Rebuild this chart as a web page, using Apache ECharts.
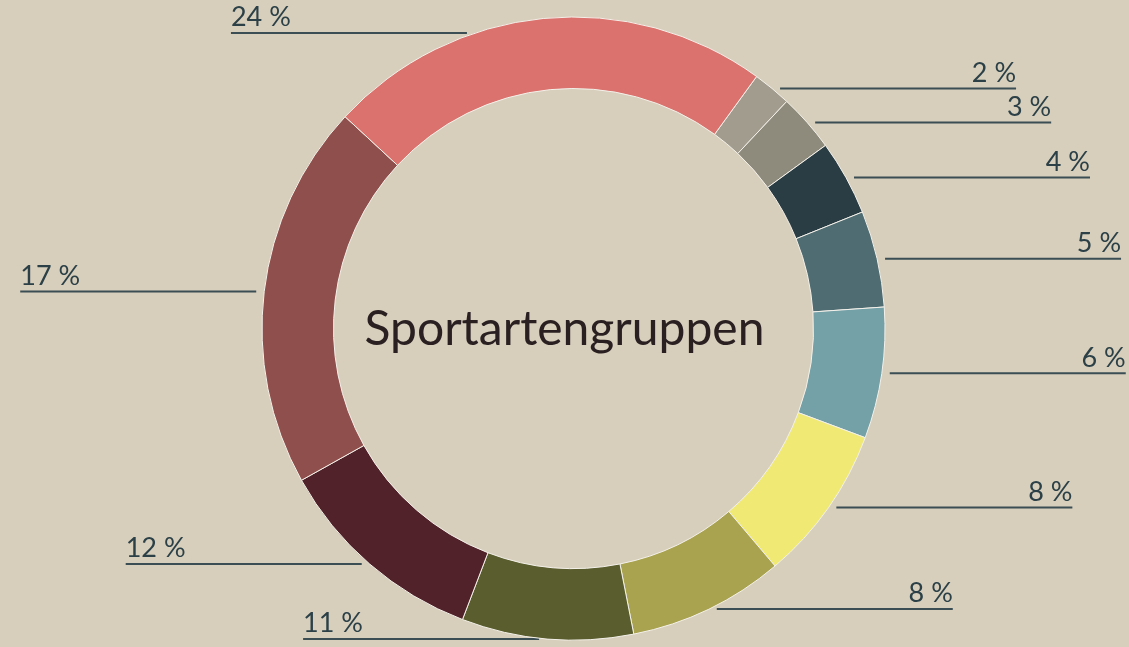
<!DOCTYPE html>
<html>
<head>
<meta charset="utf-8">
<title>Sportartengruppen</title>
<script src="https://cdn.jsdelivr.net/npm/echarts@6/dist/echarts.min.js"></script>
<style>
  html, body { margin: 0; padding: 0; background: #d7cebb; }
  #chart { width: 1129px; height: 647px; }
</style>
</head>
<body>
<div id="chart"></div>
<script>
  // Anteile der Ringsegmente (im Uhrzeigersinn)
  var values = [2.0, 3.0, 3.9, 5.0, 6.8, 8.1, 8.1, 8.9, 11.1, 20.0, 23.1];
  // beschriftete Werte
  var labels = ['2 %', '3 %', '4 %', '5 %', '6 %', '8 %', '8 %', '11 %', '12 %', '17 %', '24 %'];
  var colors = ['#a29c8f', '#8e8a7c', '#2b3d44', '#4f6c72', '#74a0a8', '#f0ea74',
                '#a9a34f', '#5a5d2e', '#51222a', '#8f4f4c', '#dc726e'];

  var cx = 573.5, cy = 328.5, outerR = 311.5, innerR = 240;
  var labelSize = 27, gap = 8, lineLen = 236;

  var myChart = echarts.init(document.getElementById('chart'));

  var seriesData = values.map(function (v, i) {
    return { name: labels[i], value: v, itemStyle: { color: colors[i] } };
  });

  var options = {
    backgroundColor: '#d7cebb',
    animation: false,
    title: {
      text: 'Sportartengruppen',
      left: 'center',
      top: 301,
      textStyle: {
        fontFamily: 'Lato',
        fontSize: 48,
        fontWeight: 'normal',
        color: '#2a2022'
      }
    },
    series: [
      {
        type: 'pie',
        center: [cx, cy],
        radius: [innerR, outerR],
        startAngle: 54,
        clockwise: true,
        avoidLabelOverlap: false,
        data: seriesData,
        itemStyle: {
          borderColor: '#f4f1ea',
          borderWidth: 1
        },
        label: {
          show: true,
          position: 'outside',
          formatter: '{b}',
          fontFamily: 'Lato',
          fontSize: labelSize,
          color: '#2b4047'
        },
        labelLine: {
          show: true,
          length: 0,
          length2: 0,
          lineStyle: { color: '#3a4e54', width: 2 }
        },
        labelLayout: function (params) {
          var pts = params.labelLinePoints;
          if (!pts) return;
          var p = pts[0];
          var isLeft = p[0] < cx;
          // Text muss oben noch ins Bild passen
          var y = Math.max(p[1], labelSize + 6);
          var dy = y - cy;
          var half = Math.sqrt(Math.max(outerR * outerR - dy * dy, 0));
          var x0 = isLeft ? cx - half - gap : cx + half + gap;
          var x1 = isLeft ? x0 - lineLen : x0 + lineLen;
          return {
            x: x1,
            y: y - 2,
            align: isLeft ? 'left' : 'right',
            verticalAlign: 'bottom',
            labelLinePoints: [[x0, y], [x0, y], [x1, y]]
          };
        }
      }
    ]
  };
  myChart.setOption(options);
</script>
</body>
</html>
